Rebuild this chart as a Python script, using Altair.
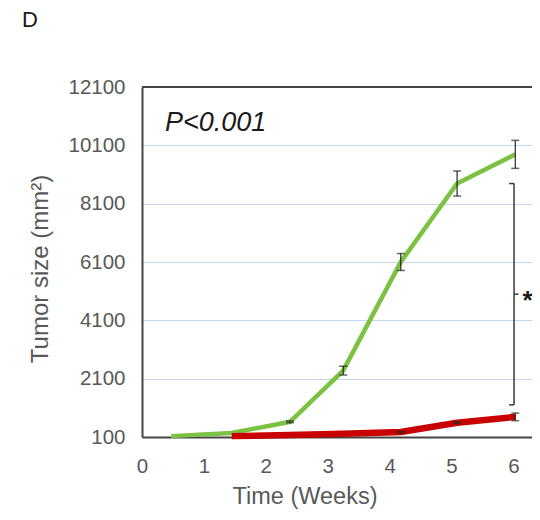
import altair as alt
import pandas as pd

# ---- data ----
green_weeks = [0.47, 1.45, 2.39, 3.25, 4.18, 5.09, 6.03]
green_size = [130, 240, 620, 2375, 6100, 8790, 9790]
green_err = [0, 0, 30, 150, 290, 430, 480]

red_weeks = [1.45, 2.39, 3.25, 4.18, 5.09, 6.03]
red_size = [130, 170, 210, 270, 590, 790]
red_err = [0, 0, 0, 20, 30, 130]

x_ticks = [0, 1, 2, 3, 4, 5, 6]
y_ticks = [100, 2100, 4100, 6100, 8100, 10100, 12100]

# significance bracket (week, size)
bracket_x = [6.01, 5.93, 5.93, 6.01]
bracket_x2 = [6.01, 6.01, 6.01, 6.08]
bracket_y = [1203, 8790, 1203, 4996]
bracket_y2 = [8790, 8790, 1203, 4996]

p_label = ["P<0.001"]
p_pos = [0.37, 10582]
star_pos = [6.23, 4996]

GRAY = "#595959"
AXIS = "#454545"
FONT = "Liberation Sans"

def frame(weeks, size, err, group):
    df = pd.DataFrame({"week": weeks, "size": size, "err": err})
    df["lo"] = df["size"] - df["err"]
    df["hi"] = df["size"] + df["err"]
    df["group"] = group
    return df

g = frame(green_weeks, green_size, green_err, "g")
r = frame(red_weeks, red_size, red_err, "r")

x_scale = alt.Scale(domain=[0, 6.3], nice=False, zero=False)
y_scale = alt.Scale(domain=[100, 12100], nice=False, zero=False)

x_axis = alt.Axis(values=x_ticks, ticks=False, tickSize=0, labelPadding=19,
                  labelFontSize=20.5, labelColor=GRAY, labelFont=FONT,
                  domainColor=AXIS, domainWidth=2, grid=False, title=None,
                  labelFlush=False, labelOverlap=False, format="d")
y_axis = alt.Axis(values=y_ticks, ticks=False, tickSize=0, labelPadding=17,
                  labelFontSize=20.5, labelColor=GRAY, labelFont=FONT,
                  domainColor=AXIS, domainWidth=2, grid=True,
                  gridColor="#c2d8f0", gridWidth=1.2, title=None,
                  labelOverlap=False, format="d")

def X(field):
    return alt.X(field, scale=x_scale, axis=x_axis)

def Y(field):
    return alt.Y(field, scale=y_scale, axis=y_axis)

green_line = alt.Chart(g).mark_line(color="#7cc242", strokeWidth=4.5).encode(
    x=X("week:Q"), y=Y("size:Q"))
red_line = alt.Chart(r).mark_line(color="#c80000", strokeWidth=6.5).encode(
    x=X("week:Q"), y=Y("size:Q"))

errs = pd.concat([g, r])
errs = errs[errs["err"] > 0]
caps = pd.concat([
    errs[["week", "lo"]].rename(columns={"lo": "v"}),
    errs[["week", "hi"]].rename(columns={"hi": "v"}),
])

err_rules = alt.Chart(errs).mark_rule(color="#262626", strokeWidth=1.2).encode(
    x=X("week:Q"), y=Y("lo:Q"), y2="hi:Q")
err_caps = alt.Chart(caps).mark_tick(color="#262626", thickness=1.5, size=8,
                                     orient="horizontal").encode(
    x=X("week:Q"), y=Y("v:Q"))

top_border = alt.Chart(pd.DataFrame({"v": [y_ticks[-1]]})).mark_rule(
    color=AXIS, strokeWidth=2).encode(y=Y("v:Q"))

br = pd.DataFrame({"x": bracket_x, "x2": bracket_x2, "y": bracket_y, "y2": bracket_y2})
bracket = alt.Chart(br).mark_rule(color="#3a3a3a", strokeWidth=1.5).encode(
    x=X("x:Q"), x2="x2:Q", y=Y("y:Q"), y2="y2:Q")

star = alt.Chart(pd.DataFrame({"x": [star_pos[0]], "y": [star_pos[1]], "t": ["*"]})).mark_text(
    fontSize=26, font=FONT, fontWeight="bold", color="#1a1a1a",
    align="center", baseline="middle", dy=7
).encode(x=X("x:Q"), y=Y("y:Q"), text="t:N")

ptext = alt.Chart(pd.DataFrame({"x": [p_pos[0]], "y": [p_pos[1]], "t": p_label})).mark_text(
    fontSize=27, font=FONT, fontStyle="italic", color="#1a1a1a",
    align="left", baseline="alphabetic"
).encode(x=X("x:Q"), y=Y("y:Q"), text="t:N")

one = pd.DataFrame({"a": [0]})
panel_label = alt.Chart(one).mark_text(
    text="D", fontSize=22, font=FONT, color="#1a1a1a", align="left", baseline="alphabetic"
).encode(x=alt.value(-120), y=alt.value(-60))
y_title = alt.Chart(one).mark_text(
    text="Tumor size (mm²)", fontSize=24, font=FONT, color=GRAY, angle=270,
    align="center", baseline="middle"
).encode(x=alt.value(-101), y=alt.value(182))
x_title = alt.Chart(one).mark_text(
    text="Time (Weeks)", fontSize=23.5, font=FONT, color=GRAY,
    align="center", baseline="middle"
).encode(x=alt.value(163), y=alt.value(410))

chart = alt.layer(
    green_line, red_line, err_rules, err_caps, top_border, bracket,
    star, ptext, panel_label, y_title, x_title
).properties(
    width=390, height=350,
    autosize=alt.AutoSizeParams(type="none"),
    padding={"left": 134, "top": 79, "right": 0, "bottom": 72},
).configure_view(stroke=None).configure(background="white")

chart.save("out.html", embed_options={"renderer": "svg", "actions": False})
